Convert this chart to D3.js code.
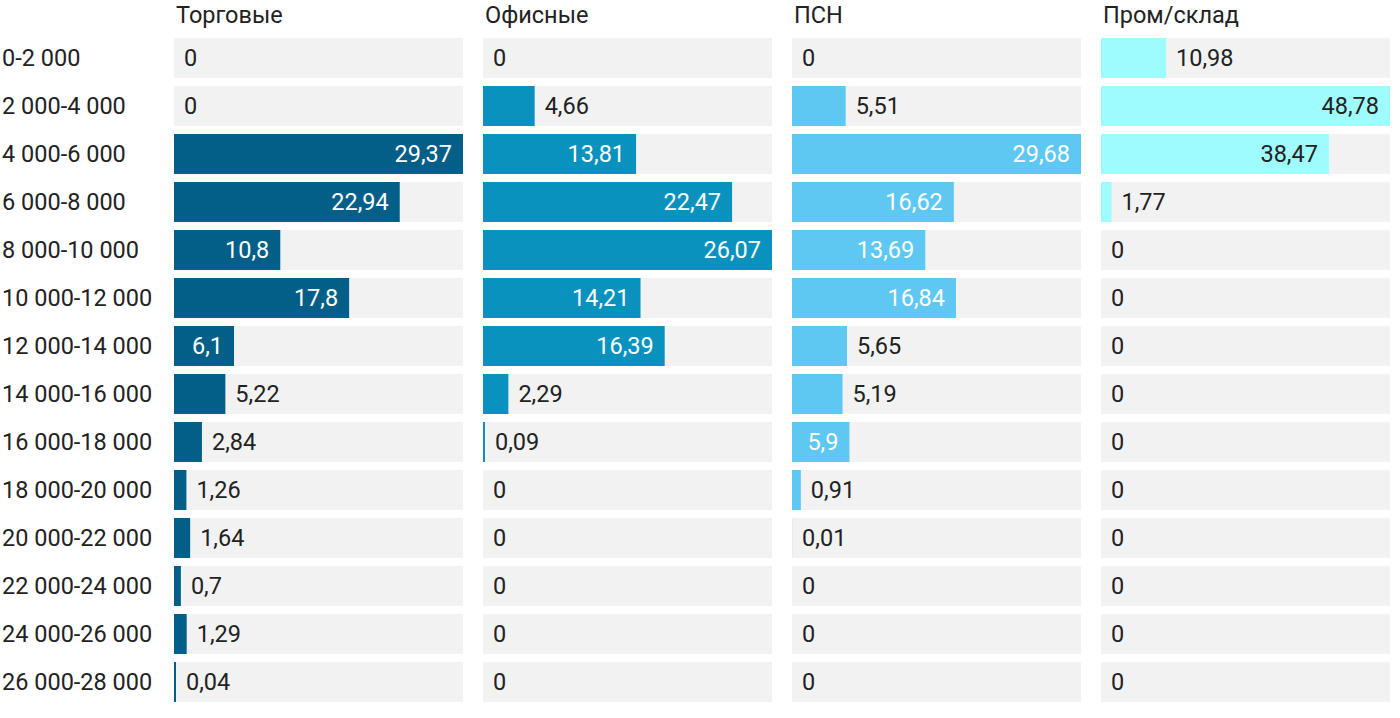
<!DOCTYPE html>
<html>
<head>
<meta charset="utf-8">
<script src="https://cdn.jsdelivr.net/npm/d3@7"></script>
<style>
  body { margin: 0; background: #fff; font-family: Roboto, "Noto Sans", sans-serif; }
</style>
</head>
<body>
<script>
const ranges = ["0-2 000", "2 000-4 000", "4 000-6 000", "6 000-8 000", "8 000-10 000",
  "10 000-12 000", "12 000-14 000", "14 000-16 000", "16 000-18 000", "18 000-20 000",
  "20 000-22 000", "22 000-24 000", "24 000-26 000", "26 000-28 000"];

const segments = ["Торговые", "Офисные", "ПСН", "Пром/склад"];

const retail = [0, 0, 29.37, 22.94, 10.8, 17.8, 6.1, 5.22, 2.84, 1.26, 1.64, 0.7, 1.29, 0.04];
const office = [0, 4.66, 13.81, 22.47, 26.07, 14.21, 16.39, 2.29, 0.09, 0, 0, 0, 0, 0];
const psn = [0, 5.51, 29.68, 16.62, 13.69, 16.84, 5.65, 5.19, 5.9, 0.91, 0.01, 0, 0, 0];
const industrial = [10.98, 48.78, 38.47, 1.77, 0, 0, 0, 0, 0, 0, 0, 0, 0, 0];

const series = [retail, office, psn, industrial];
const colors = ["#035f87", "#0892bd", "#5ec8f2", "#9ffcfe"];

const width = 1400, height = 718;
const left = 174, right = 1390, gap = 20;
const panelW = (right - left - gap * 3) / 4;
const fs = 23.5;

const svg = d3.select(document.body).append("svg")
  .attr("width", width)
  .attr("height", height)
  .style("font-family", "Roboto, 'Noto Sans', sans-serif");

const y = d3.scaleBand()
  .domain(ranges)
  .range([34, 706])
  .paddingInner(8 / 48)
  .paddingOuter(8 / 48 / 2);

// row labels
svg.append("g")
  .selectAll("text")
  .data(ranges)
  .join("text")
    .attr("x", 2)
    .attr("y", d => y(d) + y.bandwidth() / 2)
    .attr("dy", "0.35em")
    .attr("font-size", fs)
    .attr("fill", "#222")
    .text(d => d);

const fmt = v => String(v).replace(".", ",");

series.forEach((vals, k) => {
  const x0 = left + k * (panelW + gap);
  const x = d3.scaleLinear()
    .domain([0, d3.max(vals)])
    .range([0, panelW]);

  const g = svg.append("g").attr("transform", `translate(${x0},0)`);

  g.append("text")
    .attr("x", 2)
    .attr("y", 15)
    .attr("dy", "0.35em")
    .attr("font-size", fs)
    .attr("fill", "#222")
    .text(segments[k]);

  const rows = g.selectAll("g.row")
    .data(vals.map((v, i) => ({ v, cat: ranges[i] })))
    .join("g")
      .attr("class", "row")
      .attr("transform", d => `translate(0,${y(d.cat)})`);

  rows.append("rect")
    .attr("width", panelW)
    .attr("height", y.bandwidth())
    .attr("fill", "#f2f2f2");

  const barW = d => d.v >= 0.04 ? Math.max(2, x(d.v)) : x(d.v);

  rows.append("rect")
    .attr("width", barW)
    .attr("height", y.bandwidth())
    .attr("fill", colors[k]);

  rows.append("text")
    .attr("y", y.bandwidth() / 2)
    .attr("dy", "0.35em")
    .attr("font-size", fs)
    .text(d => fmt(d.v))
    .each(function (d) {
      const tw = this.getComputedTextLength();
      const w = barW(d);
      const t = d3.select(this);
      if (tw + 20 <= w) {
        t.attr("x", w - 11).attr("text-anchor", "end")
          .attr("fill", k === 3 ? "#222" : "#fff");
      } else {
        t.attr("x", w + 10).attr("fill", "#222");
      }
    });
});
</script>
</body>
</html>
